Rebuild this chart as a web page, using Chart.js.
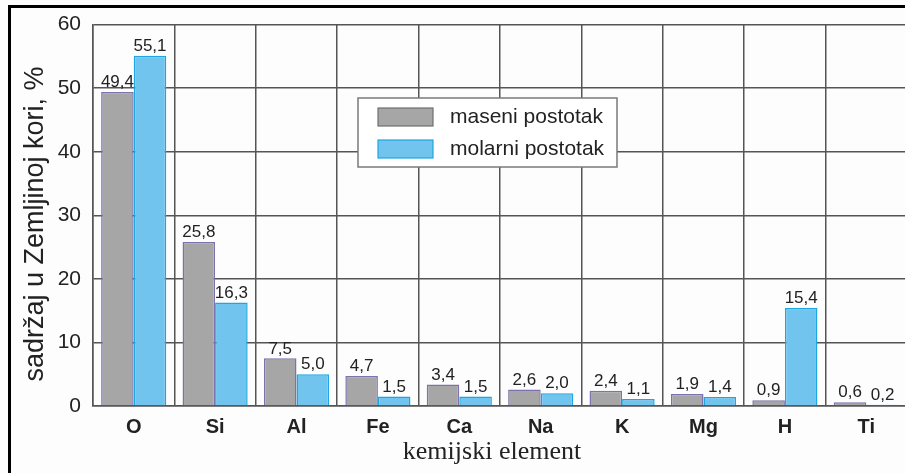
<!DOCTYPE html>
<html>
<head>
<meta charset="utf-8">
<script src="https://cdn.jsdelivr.net/npm/chart.js@4.4.0/dist/chart.umd.min.js"></script>
<style>
  html, body { margin: 0; padding: 0; background: #fdfdfd; overflow: hidden; }
  #wrap { position: relative; width: 905px; height: 473px; overflow: hidden; }
  #frame { position: absolute; left: 8px; top: 5px; right: 0; bottom: 0;
           border-left: 3px solid #000; border-top: 3px solid #000; pointer-events: none; }
  canvas { position: absolute; left: 0; top: 0; }
</style>
</head>
<body>
<div id="wrap">
  <canvas id="chart" width="912" height="473"></canvas>
  <div id="frame"></div>
</div>
<script>
(function () {
  var ELEMENTS = ['O', 'Si', 'Al', 'Fe', 'Ca', 'Na', 'K', 'Mg', 'H', 'Ti'];
  var MASENI = [49.4, 25.8, 7.5, 4.7, 3.4, 2.6, 2.4, 1.9, 0.9, 0.6];
  var MOLARNI = [55.1, 16.3, 5.0, 1.5, 1.5, 2.0, 1.1, 1.4, 15.4, 0.2];
  var Y_TICKS = [0, 10, 20, 30, 40, 50, 60];

  var FONT = '"Liberation Sans", Arial, sans-serif';
  var GRID = '#555555';

  function fmt(v) { return v.toFixed(1).replace('.', ','); }

  // value labels above each bar
  var valueLabels = {
    id: 'valueLabels',
    afterDatasetsDraw: function (chart) {
      var ctx = chart.ctx;
      ctx.save();
      ctx.font = '17px ' + FONT;
      ctx.fillStyle = '#222';
      ctx.textAlign = 'center';
      ctx.textBaseline = 'bottom';
      chart.data.datasets.forEach(function (ds, i) {
        chart.getDatasetMeta(i).data.forEach(function (bar, j) {
          ctx.fillText(fmt(ds.data[j]), bar.x, bar.y - 1);
        });
      });
      ctx.restore();
    }
  };

  // boxed legend inside the plot + axis titles
  var decorations = {
    id: 'decorations',
    afterDraw: function (chart) {
      var ctx = chart.ctx;
      ctx.save();
      // legend box
      ctx.fillStyle = '#ffffff';
      ctx.fillRect(358, 98, 259, 69);
      ctx.strokeStyle = '#7a7a7a';
      ctx.lineWidth = 1.5;
      ctx.strokeRect(358, 98, 259, 69);
      var rows = [117, 149];
      chart.data.datasets.forEach(function (ds, i) {
        ctx.fillStyle = ds.backgroundColor;
        ctx.fillRect(378, rows[i] - 9, 55, 18);
        ctx.strokeStyle = i === 0 ? '#6f6f6f' : '#1ea6e2';
        ctx.lineWidth = 1.2;
        ctx.strokeRect(378, rows[i] - 9, 55, 18);
        ctx.fillStyle = '#222';
        ctx.font = '21px ' + FONT;
        ctx.textAlign = 'left';
        ctx.textBaseline = 'middle';
        ctx.fillText(ds.label, 450, rows[i]);
      });
      // y title
      ctx.translate(36, 224);
      ctx.rotate(-Math.PI / 2);
      ctx.font = '27px ' + FONT;
      ctx.textAlign = 'center';
      ctx.textBaseline = 'middle';
      ctx.fillStyle = '#222';
      ctx.fillText('sadržaj u Zemljinoj kori, %', 0, 0);
      ctx.restore();
      // x title
      ctx.save();
      ctx.font = '26px "Liberation Serif", "Times New Roman", serif';
      ctx.fillStyle = '#222';
      ctx.textAlign = 'center';
      ctx.textBaseline = 'middle';
      ctx.fillText('kemijski element', 492, 452);
      ctx.restore();
    }
  };

  new Chart(document.getElementById('chart').getContext('2d'), {
    type: 'bar',
    data: {
      labels: ELEMENTS,
      datasets: [
        { label: 'maseni postotak', data: MASENI, backgroundColor: '#a6a6a6',
          borderColor: '#7d72ad', borderWidth: 1.5, borderSkipped: 'bottom' },
        { label: 'molarni postotak', data: MOLARNI, backgroundColor: '#71c4ee',
          borderColor: '#1ea6e2', borderWidth: 1.5, borderSkipped: 'bottom' }
      ]
    },
    options: {
      responsive: false,
      animation: false,
      events: [],
      layout: { padding: { left: 0, top: 22, right: 5, bottom: 0 } },
      datasets: { bar: { categoryPercentage: 0.8, barPercentage: 1.0 } },
      plugins: { legend: { display: false }, tooltip: { enabled: false } },
      scales: {
        x: {
          grid: { color: GRID, lineWidth: 1.5, offset: true, drawTicks: false },
          border: { color: GRID, width: 1.5 },
          ticks: { color: '#222', padding: 9, font: { size: 20, weight: 'bold', family: FONT } },
          afterFit: function (s) { s.height = 67; }
        },
        y: {
          min: 0, max: 60,
          afterBuildTicks: function (s) { s.ticks = Y_TICKS.map(function (v) { return { value: v }; }); },
          grid: { color: GRID, lineWidth: 1.5, drawTicks: false },
          border: { color: GRID, width: 1.5 },
          ticks: { color: '#222', padding: 12, font: { size: 21, family: FONT } },
          afterFit: function (s) { s.width = 93; }
        }
      }
    },
    plugins: [valueLabels, decorations]
  });
})();
</script>
</body>
</html>
